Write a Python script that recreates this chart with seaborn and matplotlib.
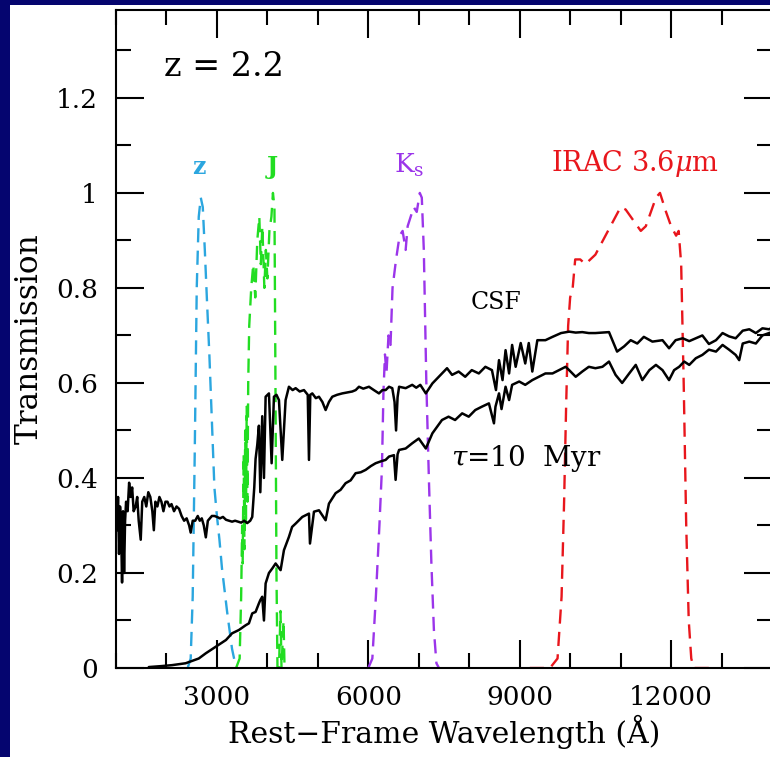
import numpy as np
import pandas as pd
import seaborn as sns
import matplotlib.pyplot as plt
from matplotlib.patches import Rectangle
from matplotlib.ticker import MultipleLocator, FuncFormatter

# constant star formation spectrum (rest-frame wavelength in A, scaled flux)
csf_wl = [1000, 1020, 1040, 1060, 1080, 1100, 1120, 1140, 1160, 1180, 1200, 1230, 1260, 1290,
          1320, 1350, 1390, 1420, 1450, 1490, 1520, 1560, 1600, 1640, 1680, 1720, 1750, 1780,
          1820, 1860, 1900, 1940, 1980, 2020, 2060, 2100, 2150, 2200, 2250, 2300, 2350, 2400,
          2450, 2480, 2520, 2570, 2620, 2660, 2700, 2740, 2780, 2820, 2860, 2900, 2950, 3000,
          3060, 3120, 3180, 3240, 3300, 3360, 3420, 3480, 3540, 3600, 3660, 3700, 3740, 3766,
          3800, 3832, 3860, 3898, 3932, 3965, 4031, 4084, 4130, 4180, 4229, 4295, 4361, 4427,
          4500, 4560, 4640, 4725, 4800, 4824, 4850, 4890, 4960, 5022, 5090, 5154, 5220, 5286,
          5380, 5484, 5580, 5682, 5750, 5815, 5900, 6013, 6110, 6211, 6280, 6343, 6410, 6475,
          6520, 6550, 6580, 6610, 6740, 6870, 6950, 7030, 7140, 7270, 7370, 7460, 7560, 7660,
          7790, 7920, 8050, 8190, 8320, 8450, 8530, 8590, 8660, 8720, 8790, 8850, 8920, 9020,
          9110, 9180, 9250, 9350, 9510, 9650, 9820, 9980, 10110, 10240, 10370, 10500, 10640,
          10770, 10930, 11070, 11200, 11330, 11460, 11630, 11830, 11960, 12090, 12230, 12360,
          12490, 12620, 12750, 12890, 13020, 13150, 13280, 13420, 13550, 13680, 13810, 13940,
          14000]
csf_flux = [0.33, 0.29, 0.36, 0.24, 0.34, 0.30, 0.18, 0.33, 0.20, 0.31, 0.35, 0.33, 0.39, 0.36,
            0.38, 0.33, 0.34, 0.36, 0.31, 0.27, 0.35, 0.36, 0.34, 0.37, 0.36, 0.33, 0.29, 0.35,
            0.34, 0.36, 0.35, 0.33, 0.35, 0.35, 0.34, 0.345, 0.33, 0.34, 0.335, 0.32, 0.31, 0.315,
            0.30, 0.285, 0.31, 0.31, 0.32, 0.31, 0.315, 0.30, 0.275, 0.31, 0.315, 0.32, 0.32, 0.318,
            0.315, 0.318, 0.312, 0.31, 0.308, 0.31, 0.308, 0.306, 0.31, 0.305, 0.31, 0.318, 0.38, 0.44,
            0.47, 0.51, 0.37, 0.53, 0.40, 0.571, 0.578, 0.431, 0.571, 0.575, 0.564, 0.438, 0.564, 0.592,
            0.585, 0.589, 0.582, 0.585, 0.575, 0.438, 0.575, 0.578, 0.568, 0.571, 0.56, 0.543, 0.56, 0.571,
            0.575, 0.578, 0.58, 0.582, 0.585, 0.592, 0.588, 0.592, 0.585, 0.578, 0.585, 0.585, 0.592, 0.589,
            0.56, 0.50, 0.57, 0.592, 0.589, 0.596, 0.59, 0.596, 0.578, 0.599, 0.61, 0.62, 0.631, 0.617,
            0.624, 0.613, 0.627, 0.62, 0.634, 0.627, 0.585, 0.648, 0.606, 0.669, 0.62, 0.68, 0.634, 0.684,
            0.641, 0.684, 0.624, 0.69, 0.69, 0.697, 0.705, 0.708, 0.706, 0.707, 0.705, 0.705, 0.706,
            0.707, 0.666, 0.677, 0.69, 0.683, 0.697, 0.687, 0.69, 0.673, 0.69, 0.694, 0.688,
            0.694, 0.70, 0.682, 0.69, 0.705, 0.698, 0.694, 0.71, 0.713, 0.705, 0.715, 0.713,
            0.716]

# tau = 10 Myr spectrum
tau_wl = [1650, 1900, 2110, 2380, 2640, 2780, 2980, 3180, 3300, 3436, 3570, 3634, 3700, 3766,
          3832, 3860, 3898, 3932, 3965, 4031, 4100, 4163, 4262, 4328, 4427, 4490, 4560, 4692,
          4824, 4844, 4923, 5022, 5154, 5220, 5352, 5450, 5550, 5650, 5748, 5850, 5947, 6050,
          6145, 6250, 6343, 6410, 6508, 6541, 6580, 6610, 6740, 6870, 7000, 7140, 7270, 7460,
          7590, 7720, 7860, 7990, 8120, 8250, 8390, 8490, 8520, 8590, 8640, 8720, 8790, 8850,
          8990, 9110, 9250, 9380, 9510, 9650, 9780, 9910, 9980, 10110, 10240, 10370, 10500,
          10640, 10770, 10900, 11030, 11170, 11300, 11430, 11570, 11700, 11830, 11960, 12060,
          12160, 12260, 12360, 12490, 12620, 12750, 12890, 13020, 13150, 13280, 13350, 13420,
          13550, 13680, 13810, 13940, 14000]
tau_flux = [0.002, 0.004, 0.006, 0.01, 0.02, 0.031, 0.045, 0.059, 0.073, 0.08, 0.09, 0.094, 0.115,
            0.118, 0.136, 0.143, 0.15, 0.10, 0.178, 0.20, 0.21, 0.22, 0.206, 0.248, 0.276, 0.297,
            0.304, 0.318, 0.325, 0.262, 0.329, 0.332, 0.311, 0.346, 0.368, 0.375, 0.389, 0.395,
            0.41, 0.412, 0.417, 0.425, 0.431, 0.435, 0.438, 0.445, 0.448, 0.396, 0.45, 0.459, 0.462,
            0.473, 0.483, 0.462, 0.494, 0.522, 0.529, 0.522, 0.536, 0.529, 0.543, 0.55, 0.557, 0.515,
            0.55, 0.578, 0.545, 0.592, 0.564, 0.596, 0.603, 0.596, 0.606, 0.613, 0.62, 0.62, 0.627,
            0.634, 0.627, 0.613, 0.624, 0.634, 0.631, 0.634, 0.645, 0.617, 0.60, 0.62, 0.638,
            0.606, 0.627, 0.638, 0.627, 0.606, 0.627, 0.634, 0.645, 0.638, 0.652, 0.659, 0.67,
            0.666, 0.68, 0.67, 0.659, 0.648, 0.683, 0.687, 0.683, 0.70, 0.705, 0.707]

# filter transmission curves (observed bands shifted to rest frame)
z_wl = [2420, 2480, 2520, 2560, 2600, 2640, 2680, 2720, 2760, 2800, 2850, 2900, 2950, 3000,
        3050, 3100, 3200, 3300, 3380]
z_tr = [0.0, 0.02, 0.15, 0.45, 0.80, 0.95, 0.99, 0.97, 0.88, 0.78, 0.66, 0.52, 0.38, 0.32,
        0.27, 0.21, 0.12, 0.04, 0.0]

j_wl = [3380, 3450, 3480, 3500, 3510, 3530, 3545, 3560, 3575, 3590, 3605, 3620, 3640, 3680,
        3720, 3760, 3800, 3840, 3870, 3900, 3940, 3970, 4000, 4040, 4080, 4110, 4140, 4160,
        4180, 4200, 4230, 4260, 4280, 4320, 4340]
j_tr = [0.0, 0.02, 0.15, 0.30, 0.22, 0.45, 0.25, 0.50, 0.30, 0.55, 0.35, 0.60, 0.72, 0.80,
        0.85, 0.78, 0.90, 0.95, 0.85, 0.93, 0.80, 0.88, 0.82, 0.92, 0.95, 1.0, 0.97, 0.60,
        0.20, 0.0, 0.0, 0.12, 0.0, 0.10, 0.0]

ks_wl = [6000, 6080, 6150, 6220, 6270, 6300, 6330, 6360, 6400, 6440, 6480, 6550, 6620, 6680,
         6740, 6780, 6840, 6900, 6960, 7020, 7060, 7100, 7150, 7200, 7250, 7300, 7350, 7400]
ks_tr = [0.0, 0.02, 0.15, 0.30, 0.42, 0.58, 0.66, 0.62, 0.70, 0.68, 0.80, 0.86, 0.91, 0.92,
         0.88, 0.93, 0.95, 0.97, 0.96, 1.0, 0.99, 0.88, 0.60, 0.40, 0.22, 0.08, 0.01, 0.0]

irac_wl = [9200, 9600, 9750, 9830, 9880, 9920, 9960, 10000, 10050, 10100, 10200, 10300, 10400,
           10500, 10600, 10700, 10850, 11000, 11100, 11200, 11300, 11400, 11500, 11600, 11700,
           11780, 11900, 12000, 12100, 12150, 12200, 12250, 12300, 12350, 12400, 12450, 12800]
irac_tr = [0.0, 0.0, 0.02, 0.15, 0.35, 0.55, 0.72, 0.78, 0.80, 0.86, 0.86, 0.85, 0.86, 0.87,
           0.89, 0.91, 0.94, 0.97, 0.965, 0.95, 0.935, 0.92, 0.93, 0.96, 0.99, 1.0, 0.96, 0.93,
           0.91, 0.92, 0.85, 0.60, 0.30, 0.10, 0.02, 0.0, 0.0]

spectra = [(csf_wl, csf_flux), (tau_wl, tau_flux)]
# data, colour, label, label x, label size, label weight
filters = [
    (z_wl, z_tr, '#2ba6df', 'z', 2650, 17, 'bold'),
    (j_wl, j_tr, '#22dd22', 'J', 4090, 17, 'bold'),
    (ks_wl, ks_tr, '#9b35ea', r'K$_\mathregular{s}$', 6810, 19, 'normal'),
    (irac_wl, irac_tr, '#e8161c', r'IRAC 3.6$\mu$m', 11290, 19.5, 'normal'),
]

sns.set_style('ticks')
plt.rcParams['font.family'] = ['DejaVu Serif']
plt.rcParams['mathtext.fontset'] = 'dejavuserif'
plt.rcParams['text.color'] = 'black'
plt.rcParams['axes.labelcolor'] = 'black'

fig = plt.figure(figsize=(7.70, 7.57), dpi=100)
fig.patch.set_facecolor('#05056f')
# white page behind the plot, leaving a thin navy frame on the left and top
page = fig.add_axes([0, 0, 1, 1], zorder=-5)
page.axis('off')
page.add_patch(Rectangle((10 / 770, 0), 1, 1 - 5 / 757, transform=page.transAxes,
                         facecolor='white', edgecolor='none'))

ax = fig.add_axes([116 / 770, 89 / 757, 656 / 770, 658 / 757])
ax.set_facecolor('white')

for wl, tr, col, name, lx, fs, fw in filters:
    df = pd.DataFrame({'wl': wl, 'tr': tr})
    sns.lineplot(data=df, x='wl', y='tr', ax=ax, color=col, lw=1.7, sort=False,
                 estimator=None, linestyle=(0, (6, 3.5)))
    ax.text(lx, 1.03, name, color=col, fontsize=fs, fontweight=fw, ha='center', va='bottom')

for wl, fl in spectra:
    df = pd.DataFrame({'wl': wl, 'flux': fl})
    sns.lineplot(data=df, x='wl', y='flux', ax=ax, color='black', lw=1.8, sort=False,
                 estimator=None)

ax.text(8540, 0.77, 'CSF', fontsize=17, ha='center', va='center')
ax.text(9130, 0.44, r'$\tau$=10  Myr', fontsize=20, ha='center', va='center')
ax.text(1950, 1.265, 'z = 2.2', fontsize=24, ha='left', va='center')

ax.set_xlim(1000, 14000)
ax.set_ylim(0, 1.385)
ax.xaxis.set_major_locator(MultipleLocator(3000))
ax.xaxis.set_minor_locator(MultipleLocator(1000))
ax.yaxis.set_major_locator(MultipleLocator(0.2))
ax.yaxis.set_minor_locator(MultipleLocator(0.1))
ax.yaxis.set_major_formatter(FuncFormatter(lambda v, p: f'{v:g}'))
ax.tick_params(which='both', direction='in', top=True, right=True, width=1.5,
               labelsize=19, colors='black')
ax.tick_params(which='major', length=20, pad=12)
ax.tick_params(which='minor', length=11)
ax.tick_params(axis='y', which='major', pad=13)
for s in ax.spines.values():
    s.set_linewidth(1.5)
    s.set_color('black')

ax.set_xlabel('Rest\u2212Frame Wavelength (\u00c5)', fontsize=21.5, labelpad=4)
ax.set_ylabel('Transmission', fontsize=22.5, labelpad=8)

fig.savefig('out.png', dpi=100, facecolor=fig.get_facecolor())
